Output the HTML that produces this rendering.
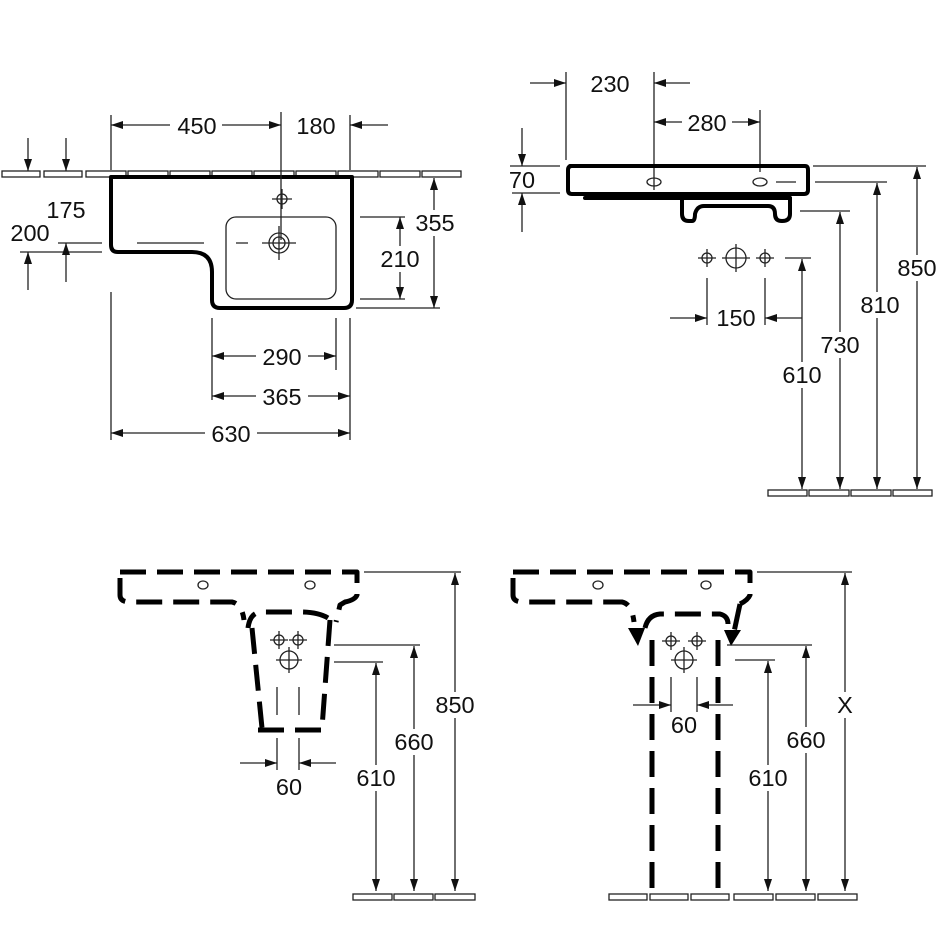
<!DOCTYPE html>
<html><head><meta charset="utf-8"><style>
html,body{margin:0;padding:0;background:#fff;}
svg{display:block;}
text{font-family:"Liberation Sans",Arial,sans-serif;font-size:23.5px;fill:#111;text-anchor:middle;dominant-baseline:central;}
.t{stroke:#222;stroke-width:1.3;fill:none;}
.b{stroke:#000;stroke-width:4;fill:none;stroke-linejoin:round;stroke-linecap:round;}
.d{stroke:#000;stroke-width:5;fill:none;stroke-dasharray:26 11;stroke-linejoin:round;}
.bg{fill:#fff;stroke:none;}
.f{fill:#fff;stroke:#222;stroke-width:1.3;}
</style></head><body>
<svg width="950" height="950" viewBox="0 0 950 950" xmlns="http://www.w3.org/2000/svg">
<defs>
<marker id="a" viewBox="0 0 12 8" refX="12" refY="4" markerWidth="12" markerHeight="8" markerUnits="userSpaceOnUse" orient="auto-start-reverse"><path d="M0,0 L12,4 L0,8 z" fill="#111"/></marker>
</defs>

<!-- ===== TOP LEFT ===== -->
<g>
<g class="f">
<rect x="2" y="171" width="38" height="6"/><rect x="44" y="171" width="38" height="6"/><rect x="86" y="171" width="40" height="6"/>
<rect x="128" y="171" width="40" height="6"/><rect x="170" y="171" width="40" height="6"/><rect x="212" y="171" width="40" height="6"/>
<rect x="254" y="171" width="40" height="6"/><rect x="296" y="171" width="40" height="6"/><rect x="338" y="171" width="40" height="6"/>
<rect x="380" y="171" width="40" height="6"/><rect x="422" y="171" width="39" height="6"/>
</g>
<path class="b" d="M111,177 L352,177 L352,300 Q352,308 344,308 L220,308 Q212,308 212,300 L212,272 Q212,252 192,252 L118,252 Q111,252 111,245 Z"/>
<rect x="226" y="217" width="110" height="82" rx="10" class="t" stroke-width="1.6"/>
<circle cx="279" cy="243" r="10" class="t" stroke-width="1.8"/><circle cx="279" cy="243" r="6" class="t" stroke-width="1.5"/>
<path class="t" d="M262,243 H296 M279,226 V260 M236,243 H248"/>
<circle cx="282" cy="199" r="5" class="t" stroke-width="1.8"/><path class="t" d="M272,199 H292 M282,189 V209"/>
<path class="t" d="M137,243 H204"/>
<path class="t" d="M111,115 V170 M281,112 V240 M350,115 V170"/>
<path class="t" marker-start="url(#a)" d="M111,125 H170"/>
<path class="t" marker-end="url(#a)" d="M222,125 H281"/>
<path class="t" marker-end="url(#a)" d="M388,125 H350"/>
<text x="197" y="126">450</text><text x="316" y="126">180</text>
<path class="t" marker-end="url(#a)" d="M28,138 V171"/>
<path class="t" marker-end="url(#a)" d="M66,138 V171"/>
<path class="t" d="M58,243 H102 M20,252 H102"/>
<path class="t" marker-end="url(#a)" d="M28,290 V252"/>
<path class="t" marker-end="url(#a)" d="M66,282 V243"/>
<text x="66" y="210">175</text><text x="30" y="233">200</text>
<path class="t" d="M356,308 H440 M360,217 H405 M360,299 H405"/>
<path class="t" marker-start="url(#a)" marker-end="url(#a)" d="M434,178 V308"/>
<path class="t" marker-start="url(#a)" marker-end="url(#a)" d="M400,217 V299"/>
<rect class="bg" x="412" y="210" width="46" height="26"/><text x="435" y="223">355</text>
<rect class="bg" x="378" y="246" width="46" height="26"/><text x="400" y="259">210</text>
<path class="t" d="M111,292 V440 M212,318 V400 M336,318 V370 M350,318 V440"/>
<path class="t" marker-start="url(#a)" d="M212,356 H256"/><path class="t" marker-end="url(#a)" d="M308,356 H336"/>
<path class="t" marker-start="url(#a)" d="M212,396 H256"/><path class="t" marker-end="url(#a)" d="M308,396 H350"/>
<path class="t" marker-start="url(#a)" d="M111,433 H205"/><path class="t" marker-end="url(#a)" d="M257,433 H350"/>
<text x="282" y="357">290</text><text x="282" y="397">365</text><text x="231" y="434">630</text>
</g>

<!-- ===== TOP RIGHT ===== -->
<g>
<path class="t" d="M566,72 V160 M654,72 V190 M760,110 V172"/>
<path class="t" marker-end="url(#a)" d="M530,83 H566"/><path class="t" marker-end="url(#a)" d="M690,83 H654"/>
<text x="610" y="84">230</text>
<path class="t" marker-start="url(#a)" d="M654,122 H682"/><path class="t" marker-end="url(#a)" d="M732,122 H760"/>
<text x="707" y="123">280</text>
<path class="b" d="M570,166 L805,166 Q808,166 808,170 L808,190 Q808,194 804,194 L572,194 Q568,194 568,190 L568,170 Q568,166 572,166 Z"/>
<path class="b" stroke-width="3.5" d="M585,198 L790,198"/>
<path class="b" d="M682,198 L682,214 Q682,221 689,221 L692,221 Q695,221 695,214 Q697,206 704,206 L768,206 Q775,206 775,214 Q775,221 782,221 Q790,221 790,214 L790,198"/>
<ellipse cx="654" cy="182" rx="7" ry="4" class="t" stroke-width="1.8"/><ellipse cx="760" cy="182" rx="7" ry="4" class="t" stroke-width="1.8"/>
<path class="t" d="M776,182 H796"/>
<path class="t" d="M510,166 H560 M512,193 H560"/>
<path class="t" marker-end="url(#a)" d="M522,128 V166"/><path class="t" marker-end="url(#a)" d="M522,232 V193"/>
<text x="522" y="180">70</text>
<circle cx="707" cy="258" r="5" class="t" stroke-width="1.8"/><path class="t" d="M698,258 H716 M707,249 V267"/>
<circle cx="736" cy="258" r="10" class="t" stroke-width="1.8"/><path class="t" d="M722,258 H750 M736,244 V272"/>
<circle cx="765" cy="258" r="5" class="t" stroke-width="1.8"/><path class="t" d="M756,258 H774 M765,249 V267"/>
<path class="t" d="M707,278 V325 M765,278 V325"/>
<path class="t" marker-end="url(#a)" d="M670,318 H707"/><path class="t" marker-end="url(#a)" d="M802,318 H765"/>
<text x="736" y="318">150</text>
<path class="t" d="M813,166 H926 M815,182 H887 M800,211 H850 M785,258 H811"/>
<path class="t" marker-start="url(#a)" marker-end="url(#a)" d="M917,167 V489"/>
<path class="t" marker-start="url(#a)" marker-end="url(#a)" d="M877,183 V489"/>
<path class="t" marker-start="url(#a)" marker-end="url(#a)" d="M840,212 V489"/>
<path class="t" marker-start="url(#a)" marker-end="url(#a)" d="M802,259 V489"/>
<rect class="bg" x="894" y="255" width="46" height="26"/><text x="917" y="268">850</text>
<rect class="bg" x="857" y="292" width="46" height="26"/><text x="880" y="305">810</text>
<rect class="bg" x="817" y="332" width="46" height="26"/><text x="840" y="345">730</text>
<rect class="bg" x="779" y="362" width="46" height="26"/><text x="802" y="375">610</text>
<g class="f"><rect x="768" y="490" width="39" height="6"/><rect x="809" y="490" width="40" height="6"/><rect x="851" y="490" width="40" height="6"/><rect x="893" y="490" width="39" height="6"/></g>
</g>

<!-- ===== BOTTOM LEFT ===== -->
<g>
<path class="d" d="M120,572 L357,572 L357,595 Q355,600 345,602 L340,605 L336,622 M328,618 Q318,612 300,612 L262,612 Q250,612 248,628"/>
<path class="d" d="M120,578 L120,595 Q120,602 130,602 L232,602 Q242,604 244,620"/>
<path class="d" d="M252,628 L262,728 M330,620 L322,728"/>
<path class="d" stroke-dasharray="22 6" d="M258,730 L322,730"/>
<ellipse cx="203" cy="585" rx="5" ry="4" class="t" stroke-width="1.8"/><ellipse cx="310" cy="585" rx="5" ry="4" class="t" stroke-width="1.8"/>
<circle cx="279" cy="640" r="5" class="t" stroke-width="1.8"/><path class="t" d="M270,640 H288 M279,631 V649"/>
<circle cx="298" cy="640" r="5" class="t" stroke-width="1.8"/><path class="t" d="M289,640 H307 M298,631 V649"/>
<circle cx="289" cy="660" r="9" class="t" stroke-width="1.8"/><path class="t" d="M276,660 H302 M289,647 V673"/>
<path class="t" d="M277,687 V715 M299,687 V715 M277,738 V770 M299,738 V770"/>
<path class="t" marker-end="url(#a)" d="M240,763 H277"/><path class="t" marker-end="url(#a)" d="M336,763 H299"/>
<text x="289" y="787">60</text>
<path class="t" d="M364,572 H461 M334,645 H420 M334,662 H383"/>
<path class="t" marker-start="url(#a)" marker-end="url(#a)" d="M455,573 V891"/>
<path class="t" marker-start="url(#a)" marker-end="url(#a)" d="M414,646 V891"/>
<path class="t" marker-start="url(#a)" marker-end="url(#a)" d="M376,663 V891"/>
<rect class="bg" x="432" y="692" width="46" height="26"/><text x="455" y="705">850</text>
<rect class="bg" x="391" y="729" width="46" height="26"/><text x="414" y="742">660</text>
<rect class="bg" x="353" y="765" width="46" height="26"/><text x="376" y="778">610</text>
<g class="f"><rect x="353" y="894" width="39" height="6"/><rect x="394" y="894" width="39" height="6"/><rect x="435" y="894" width="40" height="6"/></g>
</g>

<!-- ===== BOTTOM RIGHT ===== -->
<g>
<path class="d" d="M513,572 L750,572 L750,595 Q748,600 740,604"/>
<path class="d" d="M513,578 L513,595 Q513,602 523,602 L622,602 Q632,604 634,622"/>
<path class="d" d="M645,628 Q648,615 660,614 L720,614 Q728,616 728,624"/>
<path class="d" d="M740,604 L734,632"/>
<path d="M628,628 L645,628 L638,646 Z" fill="#000"/>
<path d="M724,630 L741,630 L731,646 Z" fill="#000"/>
<path class="d" d="M652,640 L652,893 M718,640 L718,893"/>
<ellipse cx="598" cy="585" rx="5" ry="4" class="t" stroke-width="1.8"/><ellipse cx="706" cy="585" rx="5" ry="4" class="t" stroke-width="1.8"/>
<circle cx="671" cy="641" r="5" class="t" stroke-width="1.8"/><path class="t" d="M662,641 H680 M671,632 V650"/>
<circle cx="697" cy="641" r="5" class="t" stroke-width="1.8"/><path class="t" d="M688,641 H706 M697,632 V650"/>
<circle cx="684" cy="660" r="9" class="t" stroke-width="1.8"/><path class="t" d="M671,660 H697 M684,647 V673"/>
<path class="t" d="M671,677 V712 M697,677 V712"/>
<path class="t" marker-end="url(#a)" d="M633,705 H671"/><path class="t" marker-end="url(#a)" d="M733,705 H697"/>
<text x="684" y="725">60</text>
<path class="t" d="M757,572 H852 M727,645 H812 M735,660 H775"/>
<path class="t" marker-start="url(#a)" marker-end="url(#a)" d="M845,573 V891"/>
<path class="t" marker-start="url(#a)" marker-end="url(#a)" d="M806,646 V891"/>
<path class="t" marker-start="url(#a)" marker-end="url(#a)" d="M768,661 V891"/>
<rect class="bg" x="832" y="692" width="26" height="26"/><text x="845" y="705">X</text>
<rect class="bg" x="783" y="727" width="46" height="26"/><text x="806" y="740">660</text>
<rect class="bg" x="745" y="765" width="46" height="26"/><text x="768" y="778">610</text>
<g class="f"><rect x="609" y="894" width="38" height="6"/><rect x="650" y="894" width="38" height="6"/><rect x="691" y="894" width="38" height="6"/><rect x="734" y="894" width="39" height="6"/><rect x="776" y="894" width="39" height="6"/><rect x="818" y="894" width="39" height="6"/></g>
</g>
</svg>
</body></html>
